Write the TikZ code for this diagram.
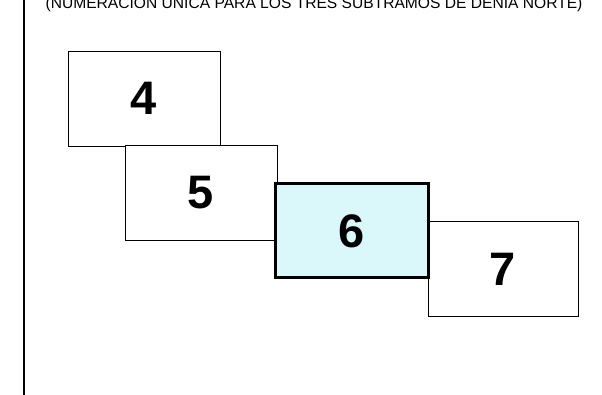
\documentclass[tikz,border=0pt]{standalone}
\usepackage{fontspec}
\setmainfont{Liberation Sans}
\usepackage{tikz}
\usetikzlibrary{arrows.meta}
\definecolor{celeste}{RGB}{218,247,249}
\begin{document}
\begin{tikzpicture}[x=1pt,y=1pt,every node/.style={font=\bfseries\fontsize{47}{47}\selectfont},
  tramo/.style={draw,minimum width=152pt,minimum height=95pt,inner sep=0pt,fill=white},
  actual/.style={draw,line width=3pt,minimum width=153pt,minimum height=94pt,inner sep=0pt,fill=celeste}]
\useasboundingbox (0,0) rectangle (602,395);
\draw[line width=2pt] (24,0)--(24,395);
\node[font=\fontsize{15.6}{15.6}\selectfont,anchor=base] (titulo) at (314,386.5) {(NUMERACIÓN ÚNICA PARA LOS TRES SUBTRAMOS DE DENIA NORTE)};
\node[tramo] (t4) at (144,296.5) {4};
\node[tramo] (t5) at (201,202) {5};
\node[tramo,minimum width=150pt] (t7) at (503,126) {7};
\node[actual] (t6) at (351.5,164) {6};
\end{tikzpicture}
\end{document}
